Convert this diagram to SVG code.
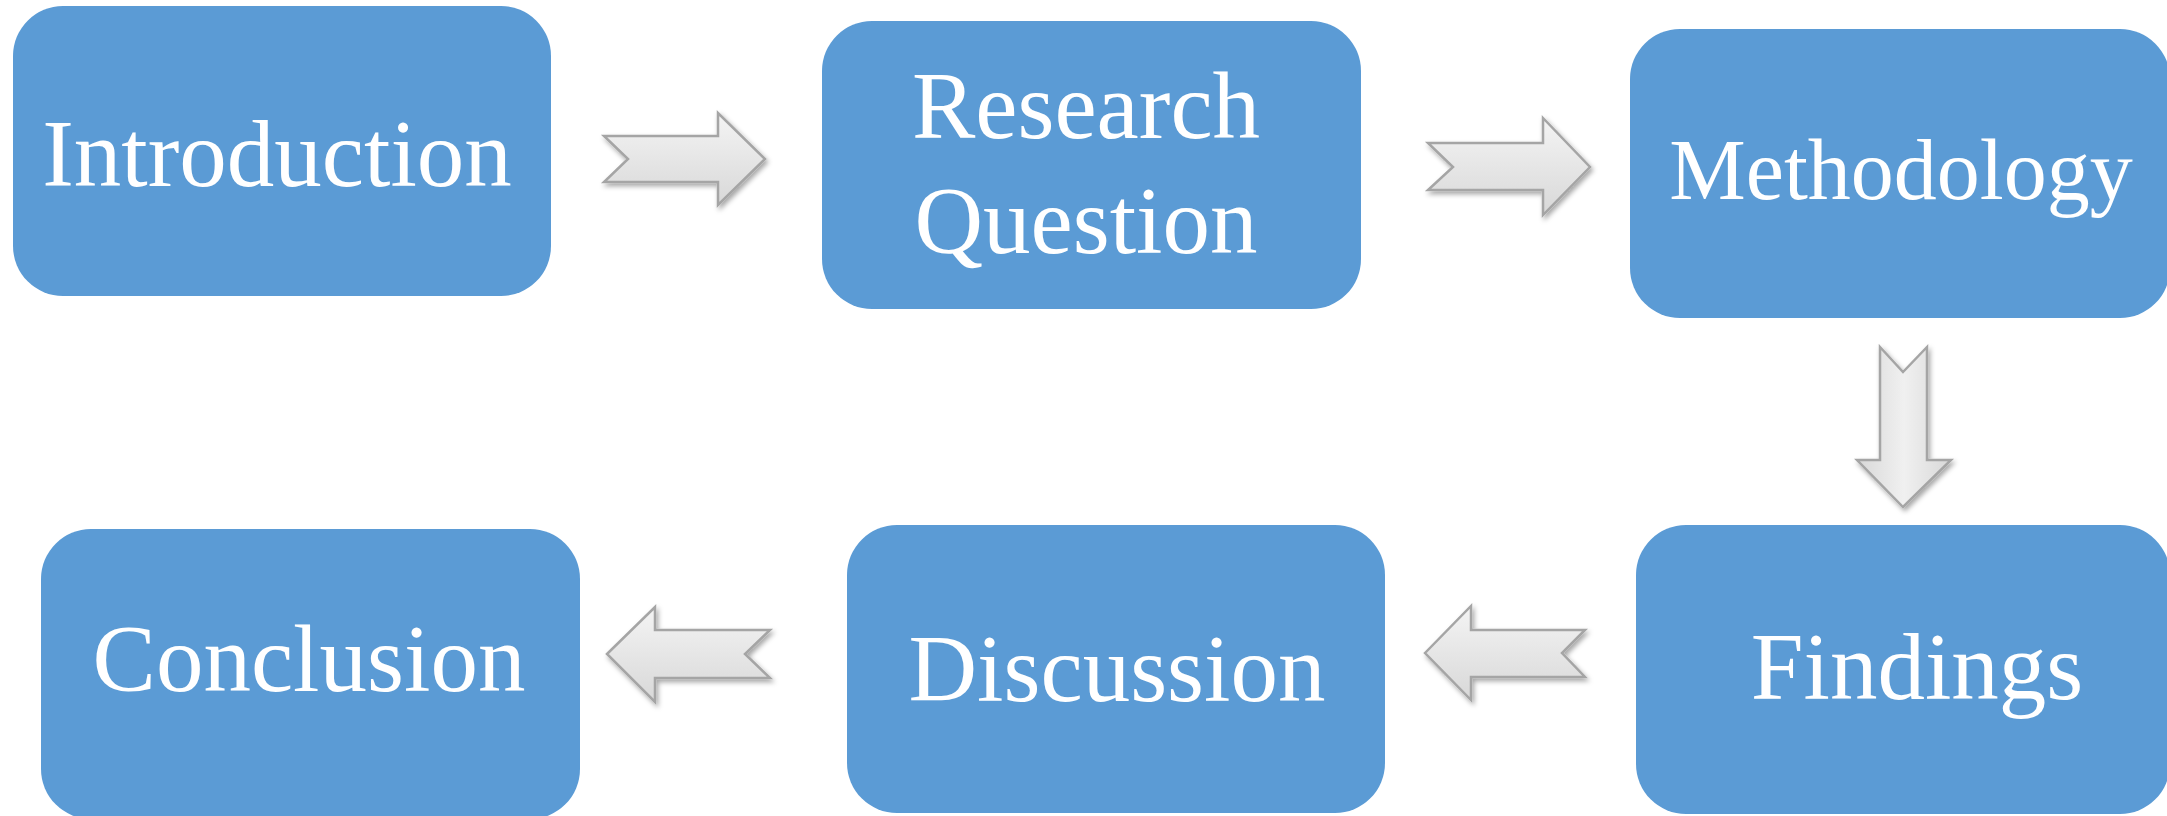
<svg xmlns="http://www.w3.org/2000/svg" width="2167" height="816" viewBox="0 0 2167 816">
<style>
.box{fill:#5B9BD5;}
.lbl{fill:#ffffff;font-family:"Liberation Serif","Times New Roman",serif;font-size:95px;text-anchor:middle;}
.arr{fill:url(#ag);stroke:#a5a5a5;stroke-width:2.5;stroke-linejoin:miter;filter:url(#sh);}
.arrv{fill:url(#agv);stroke:#a5a5a5;stroke-width:2.5;stroke-linejoin:miter;filter:url(#sh);}
</style>
<defs>
<linearGradient id="ag" x1="0" y1="0" x2="0" y2="1">
<stop offset="0" stop-color="#f4f4f4"/>
<stop offset="1" stop-color="#d8d8d8"/>
</linearGradient>
<linearGradient id="agv" x1="0" y1="0" x2="1" y2="0">
<stop offset="0" stop-color="#d8d8d8"/>
<stop offset="0.5" stop-color="#f0f0f0"/>
<stop offset="1" stop-color="#d8d8d8"/>
</linearGradient>
<filter id="sh" x="-20%" y="-20%" width="140%" height="140%">
<feDropShadow dx="2" dy="3" stdDeviation="2.5" flood-color="#000000" flood-opacity="0.35"/>
</filter>
</defs>
<rect width="2167" height="816" fill="#ffffff"/>
<g id="introduction">
<rect class="box" x="13" y="6" width="538" height="290" rx="50" ry="50"/>
<text class="lbl" x="277" y="186">Introduction</text>
</g>
<g id="research-question">
<rect class="box" x="822" y="21" width="539" height="288" rx="50" ry="50"/>
<text class="lbl" x="1086" y="138">Research</text>
<text class="lbl" x="1086" y="253">Question</text>
</g>
<g id="methodology">
<rect class="box" x="1630" y="29" width="540" height="289" rx="50" ry="50"/>
<text class="lbl" x="1901" y="199" style="font-size:86px">Methodology</text>
</g>
<g id="findings">
<rect class="box" x="1636" y="525" width="534" height="289" rx="50" ry="50"/>
<text class="lbl" x="1917" y="699">Findings</text>
</g>
<g id="discussion">
<rect class="box" x="847" y="525" width="538" height="288" rx="50" ry="50"/>
<text class="lbl" x="1117" y="701">Discussion</text>
</g>
<g id="conclusion">
<rect class="box" x="41" y="529" width="539" height="290" rx="50" ry="50"/>
<text class="lbl" x="309" y="691">Conclusion</text>
</g>
<g id="connectors">
<polygon class="arr" points="604,136 718,136 718,113 765,159 718,205 718,182 604,182 628,159"/>
<polygon class="arr" points="1428,143 1543,143 1543,118 1590,167 1543,215 1543,190 1428,190 1453,167"/>
<polygon class="arrv" points="1880,347 1903,372 1927,347 1927,460 1951,460 1903,507 1857,460 1880,460"/>
<polygon class="arr" points="1425,653 1471,606 1471,630 1585,630 1562,653 1585,677 1471,677 1471,700"/>
<polygon class="arr" points="607,654 655,607 655,630 770,630 745,654 770,678 655,678 655,702"/>
</g>
</svg>
